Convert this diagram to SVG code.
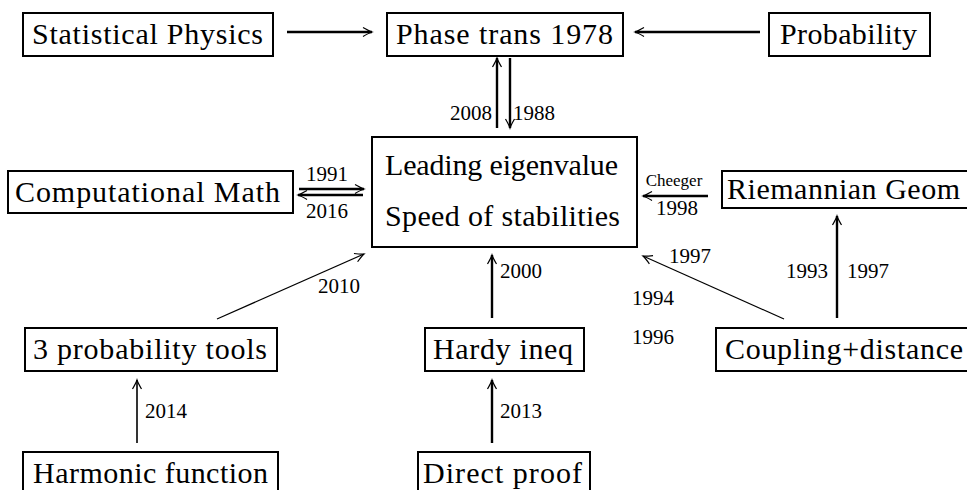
<svg xmlns="http://www.w3.org/2000/svg" width="967" height="490" viewBox="0 0 967 490">
<style>
.box{fill:#fff;stroke:#000;stroke-width:2}
.t{font-family:"Liberation Serif","DejaVu Serif",serif;font-size:30px;fill:#000}
.s{font-family:"Liberation Serif","DejaVu Serif",serif;font-size:21px;fill:#000}
.c{font-family:"Liberation Serif","DejaVu Serif",serif;font-size:17px;fill:#000}
.thick{stroke:#000;stroke-width:2.4;fill:none;marker-end:url(#ah)}
.mid{stroke:#000;stroke-width:1.6;fill:none;marker-end:url(#ah)}
.thin{stroke:#000;stroke-width:1.2;fill:none;marker-end:url(#ah)}
</style>
<defs>
<marker id="ah" markerUnits="userSpaceOnUse" markerWidth="12" markerHeight="12" viewBox="-10 -6 12 12" refX="0" refY="0" orient="auto" overflow="visible">
<path d="M-9,-4.5 Q-3,-1 0,0 Q-3,1 -9,4.5" fill="none" stroke="#000" stroke-width="1.2"/>
</marker>
</defs>
<rect width="967" height="490" fill="#fff"/>
<g id="stat"><rect class="box" x="23" y="13" width="250" height="43"/><text class="t" x="32" y="44" textLength="231">Statistical Physics</text></g>
<g id="phase"><rect class="box" x="387" y="13" width="236" height="43"/><text class="t" x="396" y="44" textLength="217">Phase trans 1978</text></g>
<g id="prob"><rect class="box" x="769" y="13" width="161" height="43"/><text class="t" x="780" y="44" textLength="137">Probability</text></g>
<g id="comp"><rect class="box" x="8" y="171" width="285" height="42"/><text class="t" x="15" y="202" textLength="265">Computational Math</text></g>
<g id="center"><rect class="box" x="372" y="137" width="265" height="110"/><text class="t" x="385" y="175" textLength="233">Leading eigenvalue</text><text class="t" x="385" y="226" textLength="235">Speed of stabilities</text></g>
<g id="riem"><rect class="box" x="722" y="171" width="250" height="37"/><text class="t" x="727" y="199" textLength="233">Riemannian Geom</text></g>
<g id="tools"><rect class="box" x="25" y="328" width="252" height="43"/><text class="t" x="33" y="359" textLength="234">3 probability tools</text></g>
<g id="hardy"><rect class="box" x="425" y="328" width="159" height="43"/><text class="t" x="433" y="359" textLength="140">Hardy ineq</text></g>
<g id="coupling"><rect class="box" x="716" y="328" width="260" height="43"/><text class="t" x="725" y="359" textLength="238">Coupling+distance</text></g>
<g id="harmonic"><rect class="box" x="23" y="452" width="255" height="50"/><text class="t" x="33" y="483" textLength="235">Harmonic function</text></g>
<g id="direct"><rect class="box" x="418" y="452" width="172" height="50"/><text class="t" x="423" y="483" textLength="159">Direct proof</text></g>
<g id="connectors">
<line class="thick" x1="287" y1="32" x2="372" y2="32"/>
<line class="thick" x1="760" y1="32" x2="635" y2="32"/>
<line class="thick" x1="497" y1="128" x2="497" y2="58"/>
<line class="thick" x1="510" y1="58" x2="510" y2="128"/>
<line class="thick" x1="299" y1="189" x2="364" y2="189"/>
<line class="thick" x1="363" y1="195" x2="298" y2="195"/>
<line class="thick" x1="708" y1="196" x2="643" y2="196"/>
<line class="thick" x1="837" y1="318" x2="837" y2="216"/>
<line class="thin" x1="784" y1="319" x2="643" y2="256"/>
<line class="thick" x1="492" y1="318" x2="492" y2="255"/>
<line class="thick" x1="492" y1="443" x2="492" y2="380"/>
<line class="mid" x1="137" y1="443" x2="137" y2="380"/>
<line class="thin" x1="217" y1="319" x2="364" y2="254"/>
<text class="s" x="492" y="120" text-anchor="end">2008</text>
<text class="s" x="513" y="120">1988</text>
<text class="s" x="327" y="181" text-anchor="middle">1991</text>
<text class="s" x="327" y="218" text-anchor="middle">2016</text>
<text class="c" x="674" y="186" text-anchor="middle">Cheeger</text>
<text class="s" x="677" y="215" text-anchor="middle">1998</text>
<text class="s" x="828" y="278" text-anchor="end">1993</text>
<text class="s" x="847" y="278">1997</text>
<text class="s" x="669" y="263">1997</text>
<text class="s" x="632" y="305">1994</text>
<text class="s" x="632" y="344">1996</text>
<text class="s" x="500" y="278">2000</text>
<text class="s" x="500" y="418">2013</text>
<text class="s" x="145" y="418">2014</text>
<text class="s" x="318" y="293">2010</text>
</g>
</svg>
